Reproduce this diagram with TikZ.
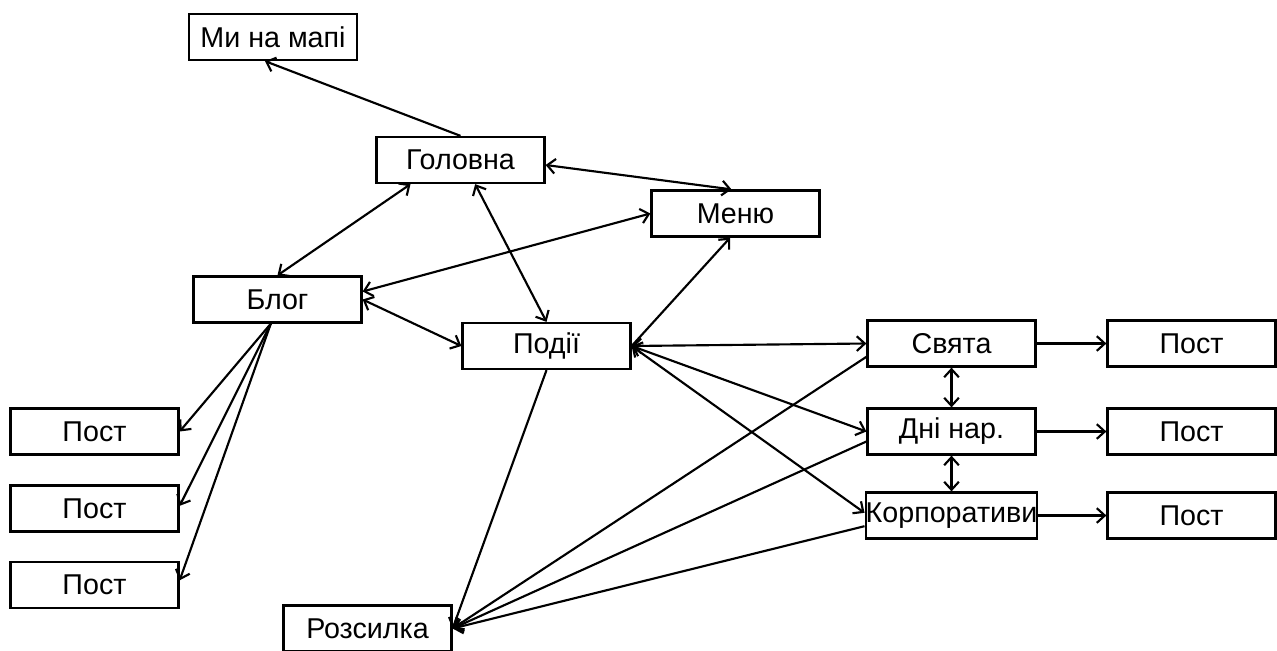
\documentclass[tikz,border=0pt]{standalone}
\usepackage{fontspec}
\setmainfont{Liberation Sans}
\usetikzlibrary{arrows.meta,calc}
\begin{document}
\begin{tikzpicture}[x=0.75pt,y=-0.75pt,
  box/.style={draw,line width=1.7pt,minimum width=126pt,minimum height=34.5pt,inner sep=0pt,font=\fontsize{21.5}{25}\selectfont},
  tipx/.tip={Straight Barb[length=6pt,width=11pt,line width=1.6pt]},
  link/.style={line width=1.6pt,-tipx},
  blink/.style={line width=1.6pt,tipx-tipx}]
\useasboundingbox (0,0) rectangle (1277,650);
\node[box] (map) at (273,37) {Ми на мапі};
\node[box] (gol) at (460.5,160) {Головна};
\node[box] (menu) at (735.5,213.5) {Меню};
\node[box] (blog) at (277.5,299.5) {Блог};
\node[box] (pod) at (546.5,346) {Події};
\node[box] (sv) at (951.5,343.5) {Свята};
\node[box] (dni) at (951.5,431.5) {Дні нар.};
\node[box] (korp) at (951.5,515.5) {Корпоративи};
\node[box] (ps1) at (1191.5,343.5) {Пост};
\node[box] (ps2) at (1191.5,431.5) {Пост};
\node[box] (ps3) at (1191.5,515.5) {Пост};
\node[box] (pb1) at (94.5,431.5) {Пост};
\node[box] (pb2) at (94.5,508.5) {Пост};
\node[box] (pb3) at (94.5,585) {Пост};
\node[box] (roz) at (367.5,628.5) {Розсилка};
% connectors
\draw[link] (gol.north) -- ([xshift=-6pt]map.south);
\draw[blink] ([yshift=-3.75pt]gol.east) -- ([xshift=-3pt]menu.north);
\draw[blink] ([xshift=-37.5pt]gol.south) -- (blog.north);
\draw[blink] ([xshift=11pt]gol.south) -- (pod.north);
\draw[blink] (menu.west) -- ([yshift=6pt]blog.east);
\draw[blink] (blog.east) -- (pod.west);
\draw[link] (pod.east) -- ([xshift=-4pt]menu.south);
\draw[link] ([xshift=-5pt]blog.south) -- (pb1.east);
\draw[link] ([xshift=-5pt]blog.south) -- ([yshift=2pt]pb2.east);
\draw[link] ([xshift=-5pt]blog.south) -- ([yshift=3.5pt]pb3.east);
\draw[blink] (pod.east) -- (sv.west);
\draw[blink] (pod.east) -- (dni.west);
\draw[blink] (pod.east) -- ([yshift=2pt]korp.west);
\draw[link] (pod.south) -- (roz.east);
\draw[link] ([yshift=-10pt]sv.west) -- (roz.east);
\draw[link] ([yshift=-7.5pt]dni.west) -- (roz.east);
\draw[link] ([yshift=-8pt]korp.west) -- (roz.east);
\draw[blink] (sv.south) -- (dni.north);
\draw[blink] (dni.south) -- (korp.north);
\draw[link] (sv.east) -- (ps1.west);
\draw[link] (dni.east) -- (ps2.west);
\draw[link] (korp.east) -- (ps3.west);
\end{tikzpicture}
\end{document}
